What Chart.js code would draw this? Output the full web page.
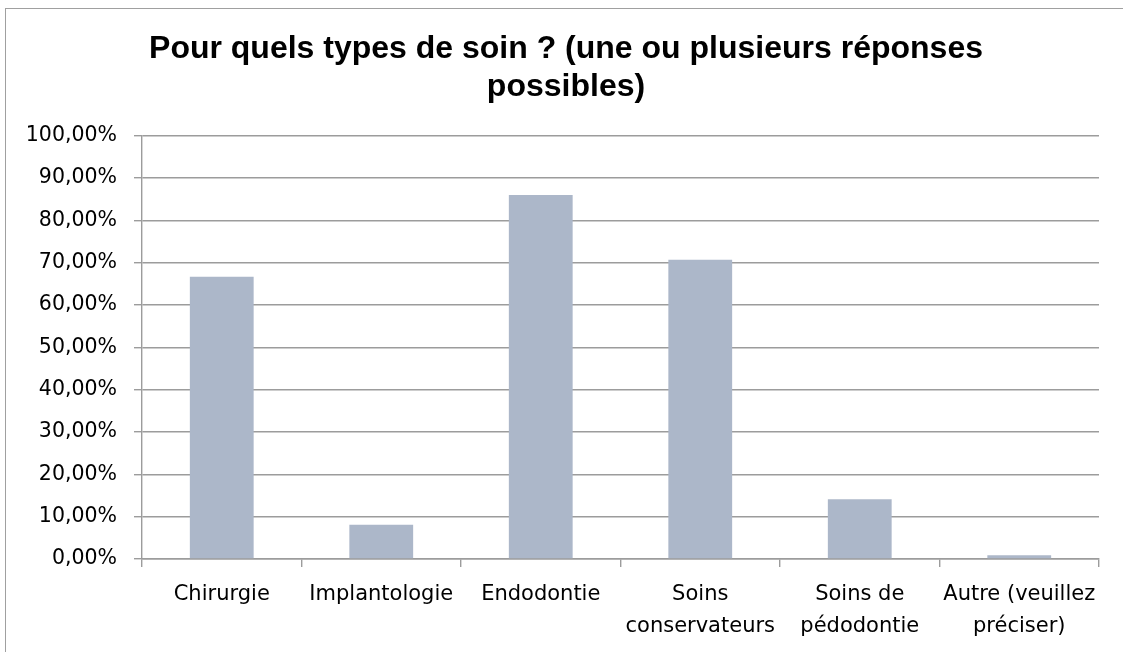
<!DOCTYPE html>
<html>
<head>
<meta charset="utf-8">
<script src="https://cdn.jsdelivr.net/npm/chart.js@4/dist/chart.umd.min.js"></script>
<style>
  html, body { margin: 0; padding: 0; background: #ffffff; }
  #wrap { width: 1123px; height: 652px; position: relative; }
</style>
</head>
<body>
<div id="wrap"><canvas id="c" width="1123" height="652"></canvas></div>
<script>
const titleLines = ["Pour quels types de soin ? (une ou plusieurs réponses", "possibles)"];
const categories = [
  "Chirurgie",
  "Implantologie",
  "Endodontie",
  ["Soins", "conservateurs"],
  ["Soins de", "pédodontie"],
  ["Autre (veuillez", "préciser)"]
];
const percentValues = [66.7, 8.1, 86.0, 70.7, 14.1, 0.9];
const yMin = 0;
const yMax = 100;
const yStep = 10;

const framePlugin = {
  id: 'frame',
  beforeDraw(chart) {
    const ctx = chart.ctx;
    ctx.save();
    ctx.fillStyle = '#ffffff';
    ctx.fillRect(0, 0, chart.width, chart.height);
    ctx.strokeStyle = '#a0a0a0';
    ctx.lineWidth = 1;
    ctx.strokeRect(5.5, 8.5, chart.width + 50, chart.height + 50);
    ctx.restore();
  },
  afterLayout(chart) {
    const t = chart.titleBlock;
    if (t) { t.left = 9; t.right = chart.width; }
  }
};

new Chart(document.getElementById('c'), {
  type: 'bar',
  data: {
    labels: categories,
    datasets: [{
      data: percentValues,
      backgroundColor: '#acb7c9',
      borderWidth: 0,
      categoryPercentage: 1.0,
      barPercentage: 0.4
    }]
  },
  options: {
    responsive: false,
    animation: false,
    devicePixelRatio: 1,
    layout: { padding: { left: 0, right: 24, top: 0, bottom: 0 } },
    plugins: {
      legend: { display: false },
      tooltip: { enabled: false },
      title: {
        display: true,
        text: titleLines,
        color: '#000000',
        font: { family: '"Liberation Sans", Arial, sans-serif', size: 32, weight: 'bold', lineHeight: 1.2 },
        padding: { top: 30, bottom: 29 }
      }
    },
    scales: {
      x: {
        grid: {
          display: true,
          offset: true,
          drawOnChartArea: false,
          drawTicks: true,
          tickLength: 8,
          color: '#9c9c9c',
          lineWidth: 1.4
        },
        border: { display: true, color: '#9c9c9c', width: 1.4 },
        ticks: {
          color: '#000000',
          padding: 12,
          maxRotation: 0,
          autoSkip: false,
          font: { family: '"DejaVu Sans", sans-serif', size: 21, lineHeight: 1.52 }
        },
        afterFit(scale) { scale.height = 93; }
      },
      y: {
        min: yMin,
        max: yMax,
        grid: {
          color: '#9c9c9c',
          lineWidth: 1.4,
          drawTicks: true,
          tickLength: 8
        },
        border: { display: true, color: '#9c9c9c', width: 1.4 },
        ticks: {
          stepSize: yStep,
          color: '#000000',
          padding: 17,
          font: { family: '"DejaVu Sans", sans-serif', size: 20.5 },
          callback: (v) => v.toFixed(2).replace('.', ',') + '%'
        },
        afterFit(scale) { scale.width = 142; }
      }
    }
  },
  plugins: [framePlugin]
});
</script>
</body>
</html>
